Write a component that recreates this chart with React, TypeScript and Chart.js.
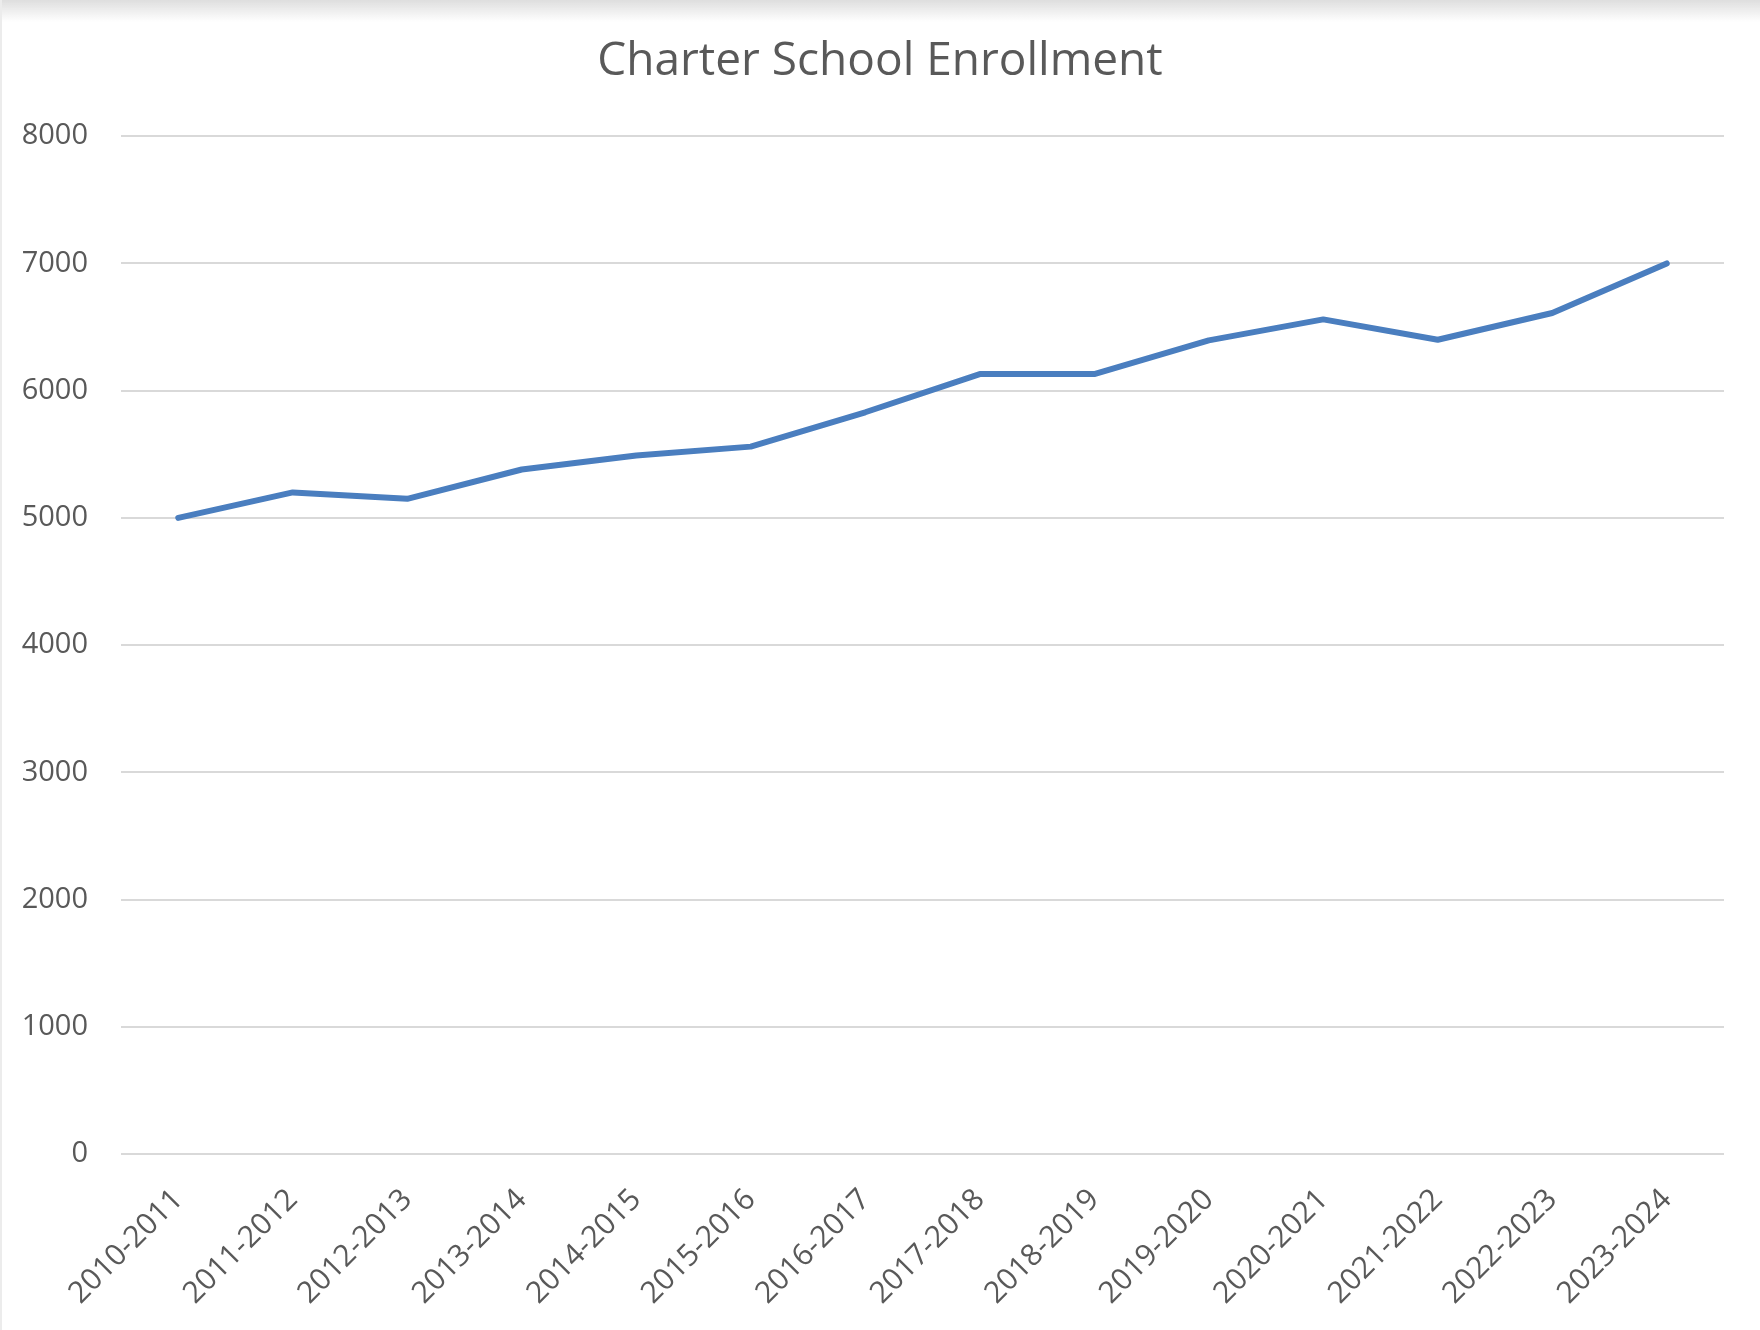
import { useEffect, useRef } from 'react'
import { Chart, registerables } from 'chart.js'

Chart.register(...registerables)

const schoolYears = [
  '2010-2011', '2011-2012', '2012-2013', '2013-2014', '2014-2015',
  '2015-2016', '2016-2017', '2017-2018', '2018-2019', '2019-2020',
  '2020-2021', '2021-2022', '2022-2023', '2023-2024',
]

const enrollment = [
  5000, 5200, 5150, 5380, 5490, 5560, 5830,
  6130, 6130, 6395, 6560, 6400, 6610, 7000,
]

const yMin = 0
const yMax = 8000
const yStep = 1000

const chartTitle = 'Charter School Enrollment'

const textColor = '#595959'
const gridColor = '#d9d9d9'
const lineColor = '#4a7ebf'
const fontFamily = '"Open Sans", "Noto Sans", sans-serif'

export default function App() {
  const canvasRef = useRef<HTMLCanvasElement>(null)
  const chartRef = useRef<Chart | null>(null)

  useEffect(() => {
    document.body.style.margin = '0'
    const canvas = canvasRef.current
    if (!canvas) return
    const ctx = canvas.getContext('2d')
    if (!ctx) return

    if (chartRef.current) chartRef.current.destroy()

    chartRef.current = new Chart(ctx, {
      type: 'line',
      data: {
        labels: schoolYears,
        datasets: [
          {
            label: 'Enrollment',
            data: enrollment,
            borderColor: lineColor,
            borderWidth: 6,
            pointRadius: 0,
            tension: 0,
            fill: false,
            borderCapStyle: 'round',
            borderJoinStyle: 'round',
          },
        ],
      },
      options: {
        responsive: false,
        animation: false,
        devicePixelRatio: 1,
        layout: {
          padding: 0,
        },
        plugins: {
          legend: { display: false },
          tooltip: { enabled: false },
          title: {
            display: true,
            text: chartTitle,
            color: textColor,
            font: { family: fontFamily, size: 46, weight: 'normal' },
            padding: { top: 34, bottom: 47 },
          },
        },
        scales: {
          x: {
            type: 'category',
            offset: true,
            grid: { display: false, drawTicks: false },
            border: { display: false },
            ticks: {
              color: textColor,
              font: { family: fontFamily, size: 30 },
              minRotation: 45,
              maxRotation: 45,
              autoSkip: false,
              padding: 28,
            },
            afterFit: (scale) => {
              scale.height = 176
            },
          },
          y: {
            min: yMin,
            max: yMax,
            grid: { color: gridColor, lineWidth: 2, drawTicks: false },
            border: { display: false },
            ticks: {
              stepSize: yStep,
              color: textColor,
              font: { family: fontFamily, size: 29 },
              padding: 33,
              callback: (value) => String(value),
            },
            afterFit: (scale) => {
              scale.width = 121
            },
          },
          // empty right-hand spacer so the title stays centred on the canvas
          spacer: {
            type: 'linear',
            position: 'right',
            grid: { display: false, drawTicks: false },
            border: { display: false },
            ticks: { display: false },
            afterFit: (scale) => {
              scale.width = 36
            },
          },
        },
      },
    })

    return () => {
      if (chartRef.current) {
        chartRef.current.destroy()
        chartRef.current = null
      }
    }
  }, [])

  return (
    <div style={{ position: 'relative', width: 1760, height: 1330, background: '#fff' }}>
      <canvas ref={canvasRef} width={1760} height={1330} style={{ display: 'block' }} />
      <div
        style={{
          position: 'absolute',
          left: 0,
          top: 0,
          width: 1760,
          height: 22,
          pointerEvents: 'none',
          background: 'linear-gradient(#dedede, rgba(255,255,255,0))',
        }}
      />
      <div
        style={{
          position: 'absolute',
          left: 0,
          top: 0,
          width: 2,
          height: 1330,
          pointerEvents: 'none',
          background: '#ececec',
        }}
      />
    </div>
  )
}
